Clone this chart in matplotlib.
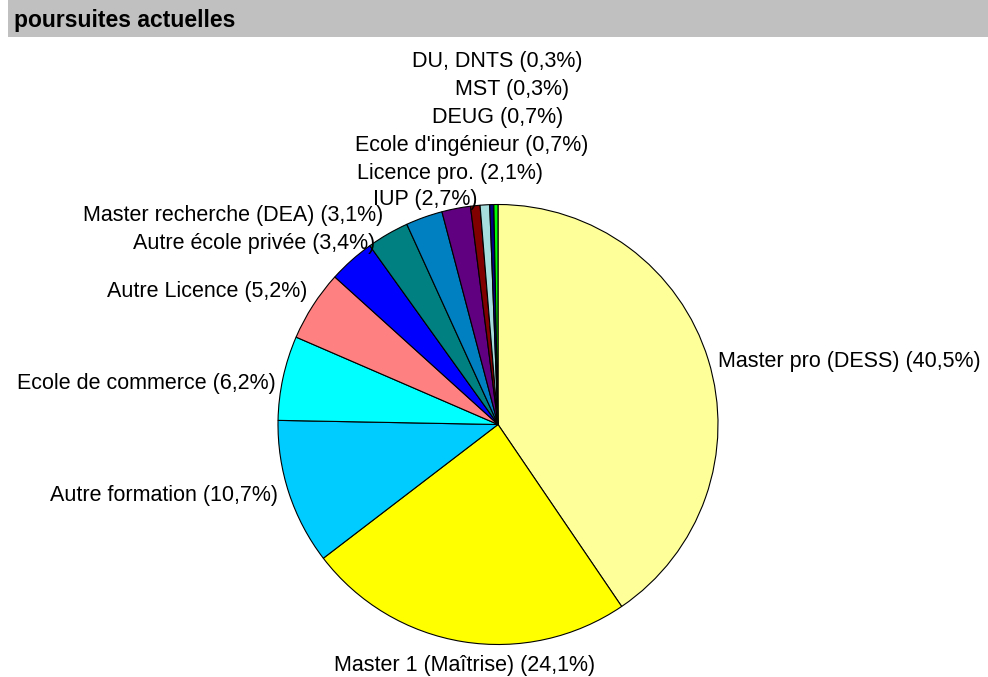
import matplotlib
matplotlib.use("Agg")
import matplotlib.pyplot as plt

plt.rcParams['font.family'] = ['Liberation Sans', 'DejaVu Sans']

categories = ["Master pro (DESS)", "Master 1 (Maîtrise)", "Autre formation",
              "Ecole de commerce", "Autre Licence", "Autre école privée",
              "Master recherche (DEA)", "IUP", "Licence pro.", "Ecole d'ingénieur",
              "DEUG", "MST", "DU, DNTS"]
values = [40.5, 24.1, 10.7, 6.2, 5.2, 3.4, 3.1, 2.7, 2.1, 0.7, 0.7, 0.3, 0.3]
pct_labels = ["40,5%", "24,1%", "10,7%", "6,2%", "5,2%", "3,4%", "3,1%",
              "2,7%", "2,1%", "0,7%", "0,7%", "0,3%", "0,3%"]
colors = ["#FFFF99", "#FFFF00", "#00CCFF", "#00FFFF", "#FF8080", "#0000FF",
          "#008080", "#0080C0", "#600080", "#800000", "#A6DEDE", "#000080", "#00FF00"]

# label anchor positions in pixels (x, y from top, ha)
label_pos = [(718, 362, 'left'), (465, 665, 'center'), (278, 495, 'right'),
             (276, 383, 'right'), (307, 292, 'right'), (375, 244, 'right'),
             (383, 216, 'right'), (425, 199, 'center'), (450, 173, 'center'),
             (472, 146, 'center'), (498, 118, 'center'), (512, 90, 'center'),
             (497, 62, 'center')]

W, H = 988, 677
fig = plt.figure(figsize=(W / 100, H / 100), dpi=100)
fig.patch.set_facecolor('white')

# title band
fig.patches.append(plt.Rectangle((8 / W, 1 - 37 / H), 1 - 8 / W, 37 / H,
                                 transform=fig.transFigure, facecolor='#C0C0C0',
                                 edgecolor='none', zorder=0))
fig.text(14 / W, 1 - 20 / H, "poursuites actuelles", fontsize=16.5,
         fontweight='bold', va='center', ha='left')

cx, cy, r = 498, 424.5, 220
ax = fig.add_axes([(cx - r) / W, 1 - (cy + r) / H, 2 * r / W, 2 * r / H])
ax.pie(values, colors=colors, startangle=90, counterclock=False,
       wedgeprops=dict(edgecolor='black', linewidth=0.8), radius=1)
ax.set_xlim(-1, 1)
ax.set_ylim(-1, 1)
ax.axis('off')

for cat, p, (x, y, ha) in zip(categories, pct_labels, label_pos):
    fig.text(x / W, 1 - y / H, f"{cat} ({p})", fontsize=15.5, ha=ha, va='center')

fig.savefig("out.png", dpi=100)
